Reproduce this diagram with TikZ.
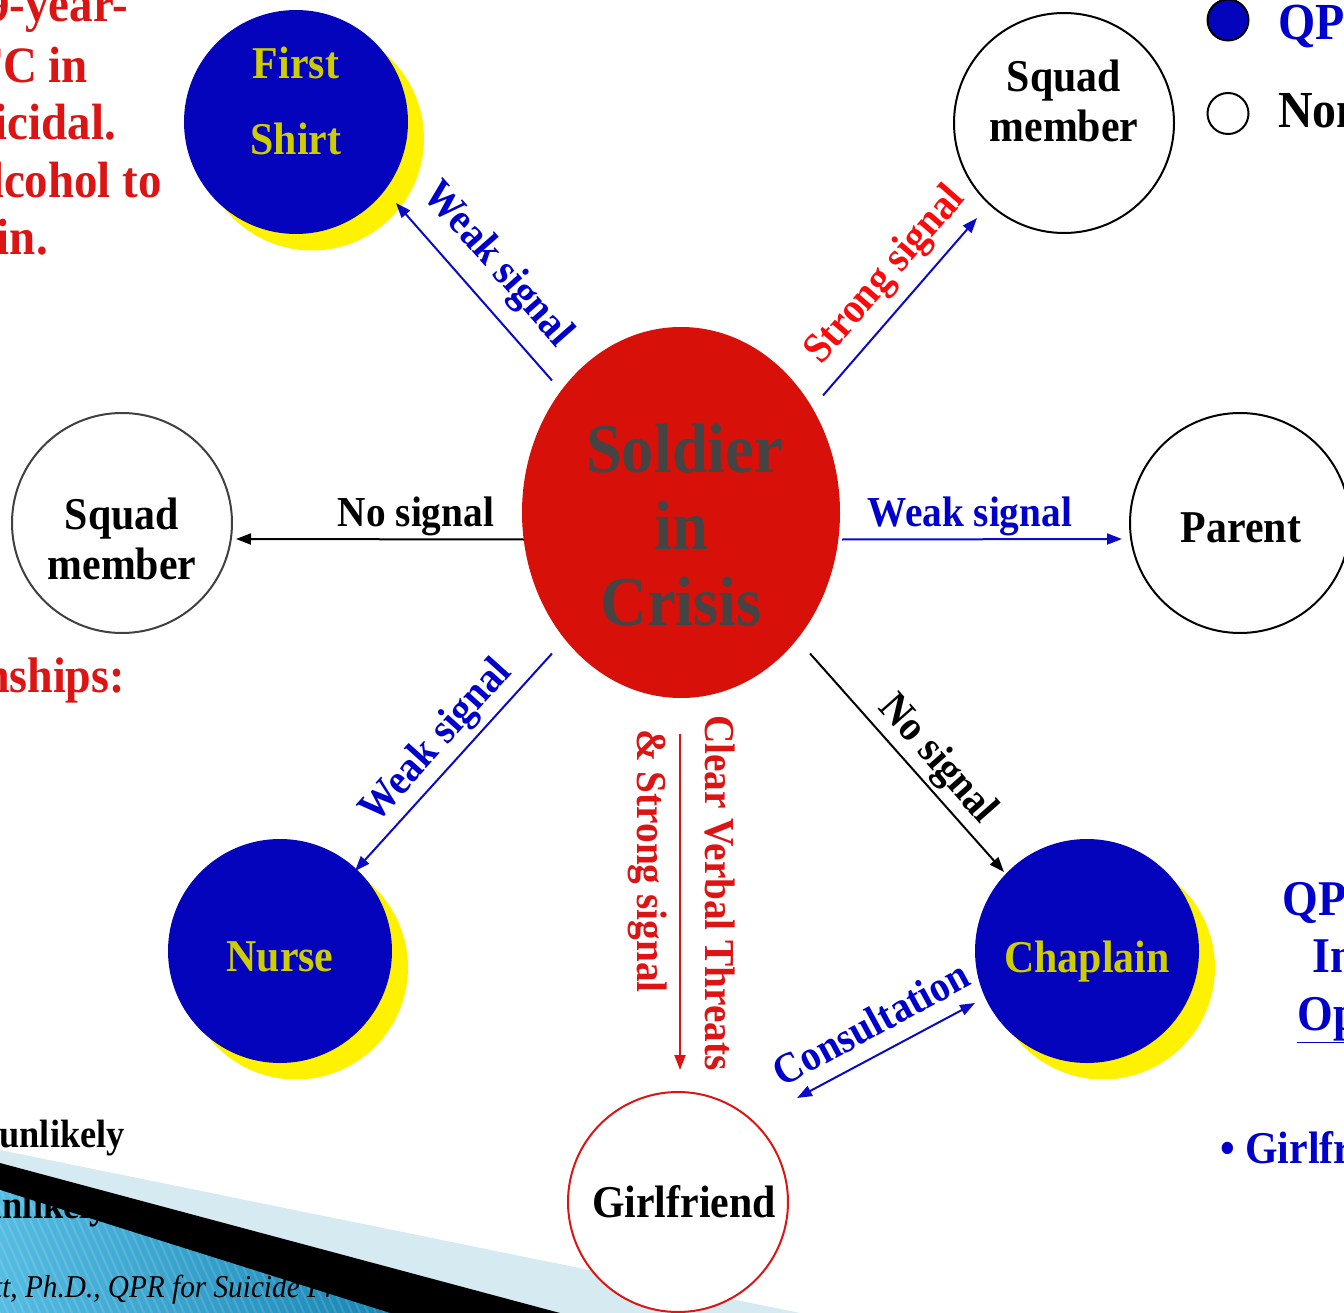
\documentclass[tikz,border=0pt]{standalone}
\usepackage{fontspec}
\setmainfont{Liberation Serif}[FakeStretch=0.92]
\usetikzlibrary{arrows.meta,shapes.geometric,shadows,calc}
\definecolor{qblue}{RGB}{4,4,188}
\definecolor{qyellow}{RGB}{205,205,0}
\definecolor{lblue}{RGB}{0,0,204}
\definecolor{lnblue}{RGB}{10,10,200}
\definecolor{sred}{RGB}{216,16,10}
\definecolor{tred}{RGB}{220,20,20}
\definecolor{bred}{RGB}{250,10,10}
\definecolor{sgray}{RGB}{68,68,68}
\definecolor{bandlight}{RGB}{214,234,242}
\definecolor{stripeA}{RGB}{85,188,226}
\definecolor{stripeB}{RGB}{22,132,178}
\newcommand\fsz[2]{\fontsize{#1}{#2}\selectfont}
\begin{document}
\begin{tikzpicture}[x=1pt,y=-1pt,
  qnode/.style={circle, fill=qblue, minimum size=224pt, inner sep=0pt,
    general shadow={fill=yellow, shadow xshift=16pt, shadow yshift=-16.5pt}},
  pnode/.style={circle, draw=#1, line width=2pt, fill=white, minimum size=220pt, inner sep=0pt},
  pnode/.default=black,
  ntext/.style={font=\bfseries\fsz{45.5}{50}, align=center, inner sep=0pt},
  qtext/.style={ntext, text=qyellow},
  lab/.style={font=\bfseries\fsz{42.7}{45}, inner sep=0pt},
  link/.style={line width=2pt, -{Triangle[length=15pt,width=11pt]}},
  redtxt/.style={font=\bfseries\fsz{51}{58}, text=tred, inner sep=0pt, anchor=base east},
  bluetxt/.style={font=\bfseries\fsz{50}{57}, text=lblue, inner sep=0pt, anchor=base west},
]
\useasboundingbox (0,0) rectangle (1344,1313);
\fill[white] (0,0) rectangle (1344,1313);

% decorative band (slide template)
\fill[bandlight] (0,1150) -- (800,1313) -- (0,1313) -- cycle;
\fill[black] (0,1163) -- (560,1313) -- (0,1313) -- cycle;
\begin{scope}
  \clip (0,1190) -- (390,1313) -- (0,1313) -- cycle;
  \shade[left color=stripeA, right color=stripeB] (0,1180) rectangle (400,1313);
  \foreach \i in {-100,-92,...,420}
    \draw[white, opacity=0.13, line width=2pt] (\i,1180) -- (\i+60,1313);
\end{scope}

% centre
\node[ellipse, fill=sred, minimum width=318pt, minimum height=371pt, inner sep=0pt,
  label={[font=\bfseries\fsz{70}{76.5}, text=sgray, align=center, inner sep=0pt, yshift=-12.8pt]center:{\hspace*{7pt}Soldier\\in\\Crisis}}]
  (soldier) at (681,512.5) {};

% surrounding nodes
\node[qnode, label={[qtext, font=\bfseries\fsz{45.5}{76}, yshift=20.7pt]center:{First\\Shirt}}] (first) at (296,122) {};
\node[pnode, label={[ntext, yshift=22.4pt]center:{Squad\\member}}] (squadR) at (1064,123) {};
\node[pnode=black!75, label={[ntext, yshift=-15.6pt]center:{Squad\\member}}] (squadL) at (122,523) {};
\node[pnode, label={[ntext, yshift=-5pt, xshift=1pt]center:{Parent}}] (parent) at (1240,523) {};
\node[qnode, label={[qtext, yshift=-6pt]center:{Nurse}}] (nurse) at (280,951) {};
\node[qnode, label={[qtext, yshift=-10.5pt]center:{Chaplain}}] (chaplain) at (1087,951) {};
\node[pnode=tred, label={[ntext, yshift=0pt, xshift=6pt]center:{Girlfriend}}] (girl) at (678,1202) {};

% connectors
\draw[link, lnblue] ($(soldier.center)+(-129,-132)$) -- ($(first.center)+(100,81)$);
\draw[link, lnblue] ($(soldier.center)+(142,-117)$) -- ($(squadR.center)+(-87,95)$);
\draw[link, black] ($(soldier.center)+(-157,27)$) -- ($(squadL.center)+(114,16)$);
\draw[link, lnblue] ($(soldier.center)+(161,27)$) -- ($(parent.center)+(-118,16)$);
\draw[link, lnblue] ($(soldier.center)+(-129,141)$) -- ($(nurse.center)+(75,-80)$);
\draw[link, black] ($(soldier.center)+(129,141)$) -- ($(chaplain.center)+(-83,-79)$);
\draw[link, tred] ($(soldier.center)+(-1,221)$) -- ($(girl.center)+(2,-132)$);
\draw[line width=2pt, lnblue, {Triangle[length=15pt,width=11pt]}-{Triangle[length=15pt,width=11pt]}]
  ($(girl.center)+(119,-104)$) -- ($(chaplain.center)+(-112,52)$);

% connector labels
\node[lab, text=lblue, rotate=-48.6] (l1) at (497,265) {Weak signal};
\node[lab, text=bred, rotate=49] (l2) at (886,276) {Strong signal};
\node[lab, anchor=base] (l3) at (416,526) {No signal};
\node[lab, text=lblue, anchor=base] (l4) at (970,526) {Weak signal};
\node[lab, text=lblue, rotate=48] (l5) at (437,742) {Weak signal};
\node[lab, rotate=-48.5] (l6) at (937,760) {No signal};
\node[lab, text=tred, rotate=-90] (l7) at (720,893) {Clear Verbal Threats};
\node[lab, text=tred, rotate=-90] (l8) at (648,861) {\& Strong signal};
\node[lab, text=lblue, rotate=28.5] (l9) at (871,1023) {Consultation};

% legend
\node[circle, fill=qblue, draw=black, line width=2pt, minimum size=41pt, inner sep=0pt] (legq) at (1228,20) {};
\node[circle, fill=white, draw=black, line width=2pt, minimum size=41pt, inner sep=0pt] (legn) at (1228,113.5) {};
\node[font=\bfseries\fsz{52}{56}, text=lblue, inner sep=0pt, anchor=base west] (legqt) at (1278,40) {QP};
\node[font=\bfseries\fsz{52}{56}, inner sep=0pt, anchor=base west] (legnt) at (1278,128) {Non};

% slide text cut off at the edges
\node[redtxt] (t1) at (128,22) {9-year-};
\node[redtxt] (t2) at (88,83) {FC in};
\node[redtxt] (t3) at (116,140) {icidal.};
\node[redtxt] (t4) at (162,198) {lcohol to};
\node[redtxt] (t5) at (48,255) {in.};
\node[redtxt, font=\bfseries\fsz{50}{56}] (t6) at (125,692) {nships:};
\node[font=\bfseries\fsz{39.5}{44}, inner sep=0pt, anchor=base east] (u1) at (125,1147) {unlikely};
\node[font=\bfseries\fsz{39.5}{44}, inner sep=0pt, anchor=base east] (u2) at (108,1218) {unlikely};
\node[font=\itshape\fsz{31.8}{36}, inner sep=0pt, anchor=base west] (foot) at (-6,1297) {tt, Ph.D., QPR for Suicide Pr};
\node[bluetxt] (r1) at (1282,915) {QP};
\node[bluetxt] (r2) at (1312,972) {In};
\node[bluetxt] (r3) at (1297,1030) {\underline{Op}};
\node[bluetxt, font=\bfseries\fsz{45.5}{50}] (r4) at (1220,1163) {• Girlfriend};
\end{tikzpicture}
\end{document}
